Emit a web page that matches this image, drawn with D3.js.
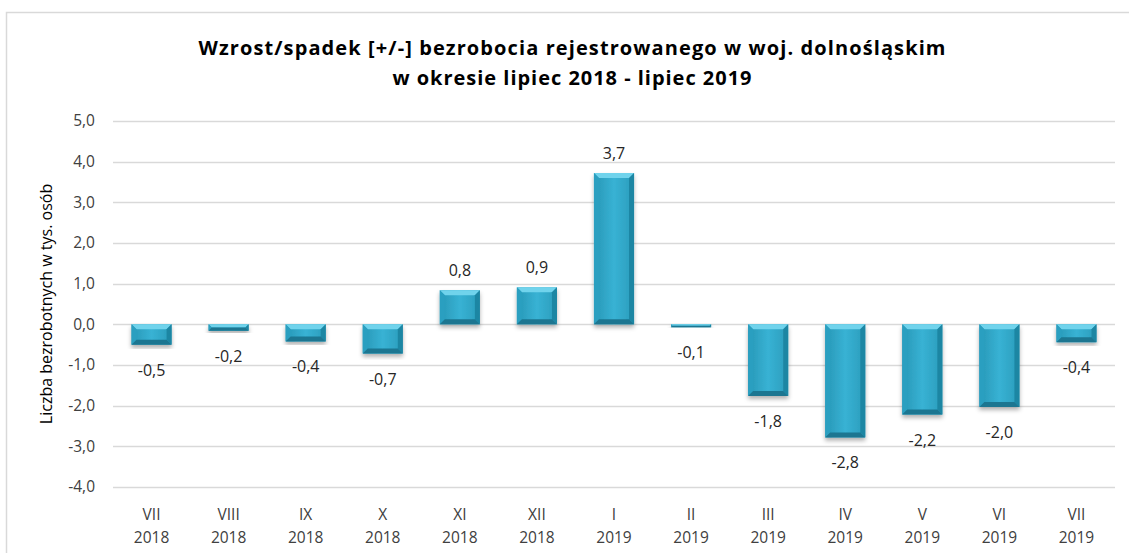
<!DOCTYPE html>
<html>
<head>
<meta charset="utf-8">
<script src="https://cdn.jsdelivr.net/npm/d3@7"></script>
<style>
  body { margin: 0; background: #fff; }
  svg { display: block; font-family: "Open Sans", Lato, sans-serif; }
  .grid line { stroke: #d9d9d9; stroke-width: 1.3; }
  .tick-label { fill: #404040; font-size: 15.5px; }
  .val-label { fill: #262626; font-size: 16px; }
  .title { fill: #000; font-size: 20px; font-weight: bold; }
</style>
</head>
<body>
<svg id="chart"></svg>
<script>
// dane: zmiana bezrobocia rejestrowanego (tys. osób)
const months = ['VII', 'VIII', 'IX', 'X', 'XI', 'XII', 'I', 'II', 'III', 'IV', 'V', 'VI', 'VII'];
const years = ['2018', '2018', '2018', '2018', '2018', '2018', '2019', '2019', '2019', '2019', '2019', '2019', '2019'];
const values = [-0.5, -0.16, -0.42, -0.72, 0.84, 0.91, 3.72, -0.07, -1.76, -2.78, -2.22, -2.03, -0.44];
const yTicks = [5, 4, 3, 2, 1, 0, -1, -2, -3, -4];
const titleLines = [
  'Wzrost/spadek [+/-] bezrobocia rejestrowanego w woj. dolnośląskim',
  'w okresie lipiec 2018 - lipiec 2019'
];
const yTitle = 'Liczba bezrobotnych w tys. osób';

const W = 1129, H = 553;
const margin = {top: 121, bottom: 66, left: 113, right: 14};
const width = W - margin.left - margin.right;
const height = H - margin.top - margin.bottom;

const svg = d3.select('#chart').attr('width', W).attr('height', H);
const fmt = v => d3.format('.1f')(v).replace('.', ',').replace('−', '-');

// outer chart border
svg.append('path')
    .attr('d', 'M6.5,' + H + 'V12.5H' + W)
    .attr('fill', 'none')
    .attr('stroke', '#d9d9d9')
    .attr('stroke-width', 1.5);

const defs = svg.append('defs');
const grad = defs.append('linearGradient').attr('id', 'barGrad')
    .attr('x1', '0').attr('x2', '1').attr('y1', '0').attr('y2', '0');
grad.append('stop').attr('offset', '0%').attr('stop-color', '#2797b6');
grad.append('stop').attr('offset', '50%').attr('stop-color', '#38b2d4');
grad.append('stop').attr('offset', '100%').attr('stop-color', '#2a9cbb');
const shadow = defs.append('filter').attr('id', 'shadow')
    .attr('x', '-20%').attr('y', '-20%').attr('width', '140%').attr('height', '140%');
shadow.append('feDropShadow').attr('dx', 0).attr('dy', 3).attr('stdDeviation', 2)
    .attr('flood-color', '#000').attr('flood-opacity', 0.3);

const g = svg.append('g').attr('transform', 'translate(' + margin.left + ',' + margin.top + ')');

const x = d3.scaleBand().domain(d3.range(months.length)).range([0, width]).paddingInner(0.48).paddingOuter(0.24);
const y = d3.scaleLinear().domain([-4, 5]).range([height, 0]);

// gridlines
g.append('g').attr('class', 'grid')
  .selectAll('line').data(yTicks).join('line')
    .attr('x1', 0).attr('x2', width)
    .attr('y1', d => Math.round(y(d)) + 0.5).attr('y2', d => Math.round(y(d)) + 0.5);

// y tick labels
g.append('g').selectAll('text').data(yTicks).join('text')
    .attr('class', 'tick-label')
    .attr('x', -18).attr('y', d => y(d)).attr('dy', '0.35em')
    .attr('text-anchor', 'end')
    .text(d => fmt(d));

// x labels (two lines)
const xl = g.append('g').selectAll('text').data(months).join('text')
    .attr('class', 'tick-label')
    .attr('text-anchor', 'middle')
    .attr('x', (d, i) => x(i) + x.bandwidth() / 2);
xl.append('tspan').attr('y', height + 33).text(d => d);
xl.append('tspan').attr('y', height + 56).attr('x', (d, i) => x(i) + x.bandwidth() / 2).text((d, i) => years[i]);

// bars with bevel
const bars = g.append('g').selectAll('g').data(values).join('g')
    .attr('filter', 'url(#shadow)');
bars.each(function(v, i) {
  const b = d3.select(this);
  const x0 = x(i), w = x.bandwidth();
  const y0 = Math.min(y(0), y(v)), h = Math.abs(y(v) - y(0));
  b.append('rect').attr('x', x0).attr('y', y0).attr('width', w).attr('height', h)
      .attr('fill', 'url(#barGrad)');
  const bv = Math.min(5, h / 2);
  const x1 = x0 + w, y1 = y0 + h;
  const poly = (pts, fill) => b.append('polygon')
      .attr('points', pts.map(p => p.join(',')).join(' '))
      .attr('fill', fill);
  poly([[x0, y0], [x1, y0], [x1 - bv, y0 + bv], [x0 + bv, y0 + bv]], '#6fd3ec');
  poly([[x0, y0], [x0 + bv, y0 + bv], [x0 + bv, y1 - bv], [x0, y1]], '#2c9fc0');
  poly([[x1, y0], [x1 - bv, y0 + bv], [x1 - bv, y1 - bv], [x1, y1]], '#1f86a3');
  poly([[x0, y1], [x0 + bv, y1 - bv], [x1 - bv, y1 - bv], [x1, y1]], '#1b7691');
});

// value labels
g.append('g').selectAll('text').data(values).join('text')
    .attr('class', 'val-label')
    .attr('text-anchor', 'middle')
    .attr('x', (d, i) => x(i) + x.bandwidth() / 2)
    .attr('y', d => d >= 0 ? y(d) - 14 : y(d) + 31)
    .text(d => fmt(d));

// axis title
svg.append('text')
    .attr('transform', 'translate(52,' + (margin.top + y(0.5)) + ') rotate(-90)')
    .attr('text-anchor', 'middle')
    .attr('font-size', '16px')
    .attr('fill', '#000')
    .text(yTitle);

// chart title (widths stretched to match the original)
const titleWidths = [747, 359];
svg.append('g').selectAll('text').data(titleLines).join('text')
    .attr('class', 'title')
    .attr('x', 572)
    .attr('y', (d, i) => 55 + i * 30)
    .attr('text-anchor', 'middle')
    .attr('textLength', (d, i) => titleWidths[i])
    .attr('lengthAdjust', 'spacing')
    .text(d => d);
</script>
</body>
</html>
